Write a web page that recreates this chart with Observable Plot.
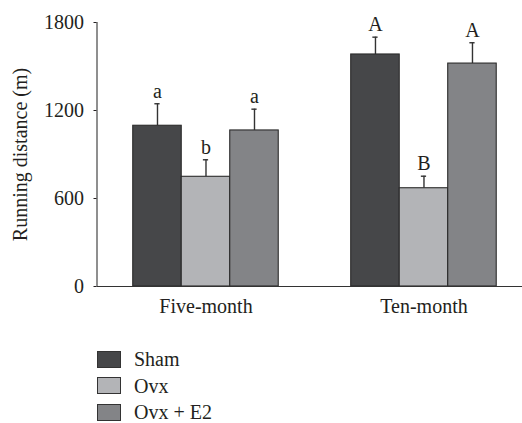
<!DOCTYPE html>
<html>
<head>
<meta charset="utf-8">
<script src="https://cdn.jsdelivr.net/npm/d3@7"></script>
<script src="https://cdn.jsdelivr.net/npm/@observablehq/plot@0.6"></script>
<style>
  html, body { margin: 0; padding: 0; background: #fff; }
  #wrap { position: relative; width: 522px; height: 423px; font-family: "Liberation Serif", "DejaVu Serif", serif; color: #231f20; }
  #legend { position: absolute; left: 97px; top: 346px; }
  .row { display: flex; align-items: center; height: 26.6px; font-size: 20px; line-height: 20px; }
  .sw { width: 22px; height: 15px; border: 1px solid #333; margin-right: 13px; box-sizing: content-box; }
</style>
</head>
<body>
<div id="wrap">
  <div id="chart"></div>
  <div id="legend"></div>
</div>
<script>
// Groups, treatments and measured running distance (mean, SEM) in metres
const groups = ["Five-month", "Ten-month"];
const treatments = ["Sham", "Ovx", "Ovx + E2"];
const fiveMonthMeans = [1096, 748, 1064];
const fiveMonthErrors = [150, 116, 145];
const tenMonthMeans = [1582, 670, 1520];
const tenMonthErrors = [118, 82, 142];
const fiveMonthLetters = ["a", "b", "a"];
const tenMonthLetters = ["A", "B", "A"];
const yTicks = [0, 600, 1200, 1800];
const fills = ["#464749", "#b3b4b7", "#838487"];

const barWidth = 0.2225; // in group units
const capHalf = 0.012;

const rows = [];
[[fiveMonthMeans, fiveMonthErrors, fiveMonthLetters], [tenMonthMeans, tenMonthErrors, tenMonthLetters]]
  .forEach(([means, errs, letters], g) => {
    treatments.forEach((t, i) => {
      const x1 = g + (i - 1.5) * barWidth;
      rows.push({
        group: groups[g], treatment: t, value: means[i], err: errs[i], letter: letters[i],
        x1, x2: x1 + barWidth, xc: x1 + barWidth / 2, top: means[i] + errs[i]
      });
    });
  });

const chart = Plot.plot({
  width: 522,
  height: 330,
  marginTop: 22,
  marginBottom: 44,
  marginLeft: 96.5,
  marginRight: 0,
  style: { fontFamily: "Liberation Serif, DejaVu Serif, serif", fontSize: "20px", color: "#231f20", background: "#fff" },
  x: { domain: [-0.5, 1.452], axis: null },
  y: { domain: [0, 1800], axis: null },
  color: { domain: treatments, range: fills },
  marks: [
    Plot.ruleX(rows, { x: "xc", y1: "value", y2: "top", stroke: "#333", strokeWidth: 1.4 }),
    Plot.ruleY(rows, { y: "top", x1: d => d.xc - capHalf, x2: d => d.xc + capHalf, stroke: "#333", strokeWidth: 1.4 }),
    Plot.rectY(rows, { x1: "x1", x2: "x2", y1: 0, y2: "value", fill: "treatment", stroke: "#2b2b2b", strokeWidth: 1.1 }),
    Plot.text(rows, { x: "xc", y: "top", text: "letter", lineAnchor: "bottom", dy: -6, fontSize: 20, fill: "#231f20" }),
    Plot.ruleY([0], { stroke: "#333", strokeWidth: 1.1 }),
    Plot.axisY({
      ticks: yTicks, tickSize: 3, tickPadding: 10, tickFormat: d => String(d), fontSize: 20,
      label: "Running distance (m)", labelAnchor: "center", labelOffset: 84, labelArrow: false
    }),
    Plot.ruleX([-0.5], { y1: 0, y2: 1800, stroke: "#333", strokeWidth: 1.1 }),
    Plot.axisX({
      ticks: [0, 1], tickFormat: i => groups[i], tickSize: 0, tickPadding: 12, fontSize: 20, label: null
    })
  ]
});
document.getElementById("chart").appendChild(chart);

// Legend
const legend = d3.select("#legend");
treatments.forEach((t, i) => {
  const row = legend.append("div").attr("class", "row");
  row.append("div").attr("class", "sw").style("background", fills[i]);
  row.append("span").text(t);
});
</script>
</body>
</html>
